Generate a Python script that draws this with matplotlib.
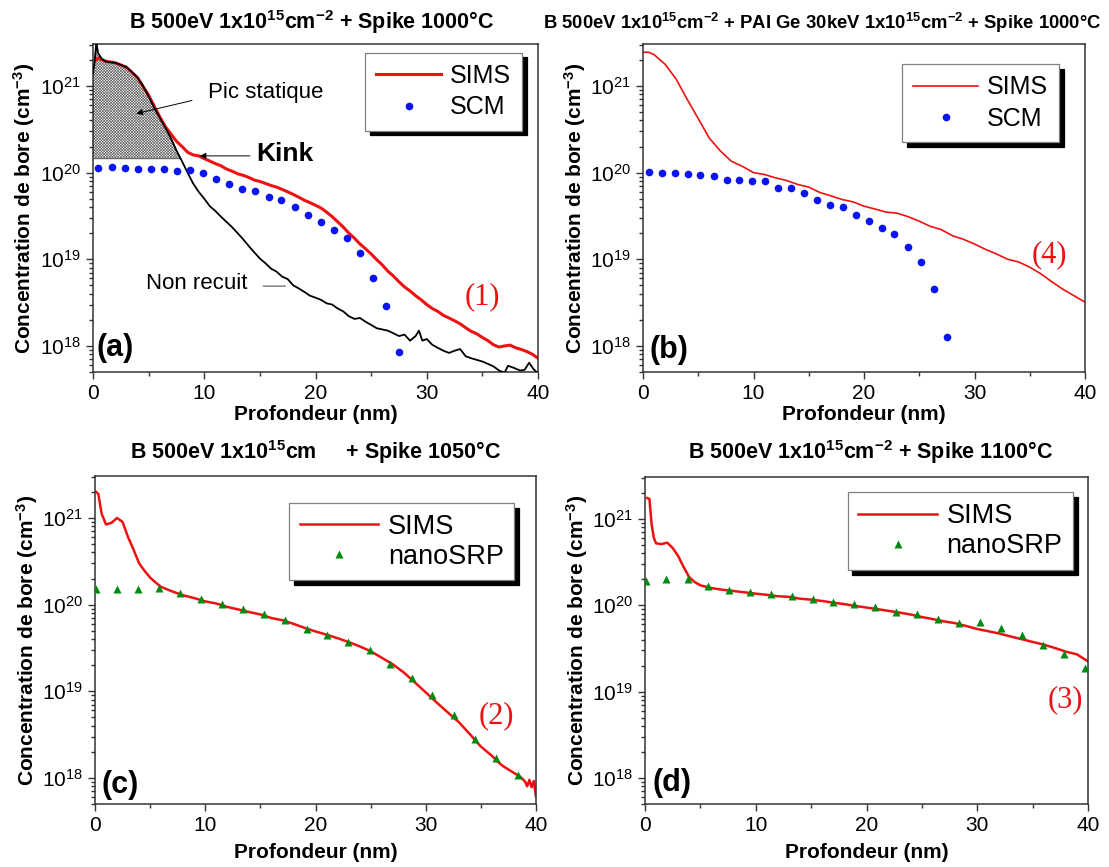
import matplotlib
matplotlib.use("Agg")
import matplotlib.pyplot as plt
from matplotlib.patches import Shadow
from matplotlib.ticker import MultipleLocator, NullFormatter

plt.rcParams['font.family'] = ['Liberation Sans', 'DejaVu Sans']
plt.rcParams['mathtext.fontset'] = 'custom'
plt.rcParams['mathtext.rm'] = 'Liberation Sans'
plt.rcParams['mathtext.bf'] = 'Liberation Sans:bold'
plt.rcParams['mathtext.it'] = 'Liberation Sans:italic'
plt.rcParams['hatch.linewidth'] = 0.45
plt.rcParams['hatch.color'] = '#505050'

# ---- (a) B 500eV + Spike 1000C ----
a_sims_x = [0.25, 0.5, 1, 2, 3, 4, 5, 6, 6.5, 7, 7.5, 8, 8.5, 9, 9.5, 10, 10.5, 11, 11.5, 12,
            12.5, 13, 13.5, 14, 14.5, 15, 15.5, 16, 16.5, 17, 17.5, 18, 18.5, 19, 19.5, 20,
            20.5, 21, 21.5, 22, 22.5, 23, 23.5, 24, 24.5, 25, 25.5, 26, 26.5, 27, 27.5, 28,
            28.5, 29, 29.5, 30, 30.5, 31, 31.5, 32, 32.5, 33, 33.5, 34, 34.5, 35, 35.5, 36,
            36.5, 37, 37.5, 38, 38.5, 39, 39.5, 40]
a_sims_y = [2.0e21, 2.1e21, 1.95e21, 1.85e21, 1.65e21, 1.25e21, 7.8e20, 4.4e20, 3.4e20, 2.8e20,
            2.3e20, 2.0e20, 1.72e20, 1.6e20, 1.56e20, 1.45e20, 1.36e20, 1.27e20, 1.2e20, 1.1e20,
            1.04e20, 9.7e19, 9.3e19, 8.8e19, 8.2e19, 7.9e19, 7.5e19, 7.1e19, 6.8e19, 6.4e19,
            6.0e19, 5.6e19, 5.2e19, 4.8e19, 4.5e19, 4.2e19, 3.9e19, 3.5e19, 3.1e19, 2.7e19,
            2.35e19, 2.0e19, 1.75e19, 1.5e19, 1.32e19, 1.15e19, 9.9e18, 8.6e18, 7.3e18, 6.4e18,
            5.5e18, 4.8e18, 4.3e18, 3.8e18, 3.4e18, 3.0e18, 2.7e18, 2.5e18, 2.25e18, 2.1e18,
            1.95e18, 1.8e18, 1.62e18, 1.47e18, 1.38e18, 1.25e18, 1.15e18, 1.03e18, 9.7e17,
            1.0e18, 1.02e18, 9.5e17, 9.1e17, 8.6e17, 8.0e17, 7.2e17]
a_raw_x = [0.0, 0.15, 0.3, 0.45, 0.8, 1.2, 2.0, 3.0, 3.5, 4.0, 4.5, 5.0, 5.5, 6.0, 6.5, 7.0,
           7.5, 8.0, 8.5, 9.0, 9.5, 10, 10.5, 11, 11.5, 12, 12.5, 13, 13.5, 14, 14.5, 15, 15.5,
           16, 16.5, 17, 17.5, 18, 18.5, 19, 19.5, 20, 20.5, 21, 21.5, 22, 22.5, 23, 23.5, 24,
           24.5, 25, 25.5, 26, 26.5, 27, 27.5, 28, 28.5, 29, 29.3, 29.6, 30, 30.5, 31, 31.5, 32,
           32.5, 33, 33.5, 34, 34.5, 35, 35.5, 36, 36.5, 37, 37.3, 37.8, 38.4, 38.8, 39.2, 39.6, 40]
a_raw_y = [1.4e21, 1.9e21, 3.2e21, 2.4e21, 2.05e21, 1.9e21, 1.85e21, 1.65e21, 1.45e21, 1.25e21,
           1.0e21, 7.6e20, 5.6e20, 4.3e20, 3.3e20, 2.5e20, 1.8e20, 1.35e20, 1.0e20, 7.5e19,
           6.0e19, 5.0e19, 4.1e19, 3.6e19, 3.1e19, 2.7e19, 2.35e19, 2.0e19, 1.7e19, 1.42e19,
           1.2e19, 1.02e19, 9.0e18, 7.8e18, 7.2e18, 6.3e18, 5.9e18, 5.0e18, 4.6e18, 4.2e18,
           3.8e18, 3.6e18, 3.4e18, 3.1e18, 3.0e18, 2.7e18, 2.5e18, 2.2e18, 2.05e18, 2.1e18,
           1.9e18, 1.75e18, 1.6e18, 1.55e18, 1.5e18, 1.4e18, 1.3e18, 1.35e18, 1.15e18, 1.3e18,
           1.5e18, 1.15e18, 1.2e18, 1.03e18, 9.5e17, 8.8e17, 8.3e17, 8.8e17, 9.2e17, 7.6e17,
           7.2e17, 6.9e17, 6.6e17, 6.2e17, 5.8e17, 5.2e17, 4.9e17, 5.9e17, 5.6e17, 5.2e17,
           5.3e17, 6.4e17, 5.4e17, 4.8e17]
a_scm_x = [0.45, 1.67, 2.87, 4.06, 5.22, 6.38, 7.57, 8.76, 9.88, 11.04, 12.24, 13.43, 14.56,
           15.78, 16.94, 18.16, 19.29, 20.48, 21.67, 22.80, 23.99, 25.15, 26.31, 27.52]
a_scm_y = [1.14e20, 1.16e20, 1.14e20, 1.09e20, 1.11e20, 1.09e20, 1.04e20, 1.06e20, 9.9e19,
           8.5e19, 7.3e19, 6.4e19, 6.1e19, 5.3e19, 4.8e19, 4.0e19, 3.2e19, 2.7e19, 2.2e19,
           1.75e19, 1.18e19, 6.05e18, 2.9e18, 8.4e17]
a_static_level = 1.45e20

# ---- (b) B 500eV + PAI Ge + Spike 1000C ----
b_sims_x = [0, 0.5, 1, 2, 3, 4, 5, 6, 7, 8, 9, 10, 11, 12, 13, 14, 15, 16, 17, 18, 19, 20,
            21, 22, 23, 24, 25, 26, 27, 28, 29, 30, 31, 32, 33, 34, 35, 36, 37, 38, 39, 40]
b_sims_y = [2.45e21, 2.45e21, 2.3e21, 1.78e21, 1.2e21, 7.0e20, 4.2e20, 2.5e20, 1.78e20, 1.35e20,
            1.18e20, 1.0e20, 9.5e19, 8.7e19, 8.1e19, 7.3e19, 6.8e19, 5.9e19, 5.4e19, 4.9e19,
            4.6e19, 4.1e19, 3.8e19, 3.5e19, 3.4e19, 3.1e19, 2.75e19, 2.4e19, 2.2e19, 1.87e19,
            1.7e19, 1.5e19, 1.3e19, 1.15e19, 1.0e19, 9.3e18, 8.1e18, 6.8e18, 5.5e18, 4.5e18,
            3.8e18, 3.2e18]
b_scm_x = [0.55, 1.70, 2.86, 4.08, 5.2, 6.39, 7.58, 8.7, 9.89, 11.04, 12.26, 13.42, 14.57,
           15.76, 16.92, 18.14, 19.26, 20.45, 21.64, 22.76, 23.98, 25.14, 26.29, 27.51]
b_scm_y = [1.02e20, 9.9e19, 9.9e19, 9.6e19, 9.4e19, 9.2e19, 8.3e19, 8.3e19, 7.9e19, 7.9e19,
           6.65e19, 6.6e19, 5.8e19, 4.85e19, 4.2e19, 4.0e19, 3.2e19, 2.8e19, 2.3e19, 1.96e19,
           1.4e19, 9.3e18, 4.5e18, 1.27e18]

# ---- (c) B 500eV + Spike 1050C ----
c_sims_x = [0.1, 0.3, 0.6, 1.0, 1.5, 2.0, 2.5, 3.0, 3.5, 4.0, 4.5, 5.0, 5.5, 6, 7, 8, 9, 10,
            11, 12, 13, 14, 15, 16, 17, 18, 19, 20, 21, 22, 23, 24, 25, 26, 27, 28, 29, 30,
            31, 32, 33, 34, 35, 36, 36.5, 37, 37.5, 38, 38.5, 39, 39.2, 39.4, 39.6, 39.8, 40]
c_sims_y = [2.0e21, 1.9e21, 1.12e21, 8.4e20, 8.8e20, 1.0e21, 9.0e20, 6.0e20, 4.3e20, 3.0e20,
            2.45e20, 2.05e20, 1.8e20, 1.6e20, 1.42e20, 1.28e20, 1.19e20, 1.09e20, 1.03e20,
            9.4e19, 8.8e19, 8.2e19, 7.7e19, 7.0e19, 6.6e19, 6.0e19, 5.4e19, 4.9e19, 4.5e19,
            4.1e19, 3.7e19, 3.3e19, 2.9e19, 2.44e19, 2.05e19, 1.65e19, 1.27e19, 9.7e18, 7.4e18,
            5.7e18, 4.4e18, 3.2e18, 2.3e18, 1.8e18, 1.55e18, 1.37e18, 1.25e18, 1.14e18,
            1.05e18, 9.1e17, 8.0e17, 9.5e17, 7.8e17, 9.2e17, 6.1e17]
c_srp_x = [0.13, 1.99, 3.93, 5.80, 7.73, 9.6, 11.53, 13.46, 15.33, 17.26, 19.19, 21.06, 22.99,
           24.92, 26.79, 28.73, 30.6, 32.53, 34.46, 36.4, 38.33]
c_srp_y = [1.51e20, 1.51e20, 1.51e20, 1.54e20, 1.36e20, 1.16e20, 1.01e20, 8.8e19, 7.7e19,
           6.6e19, 5.3e19, 4.46e19, 3.74e19, 2.97e19, 2.09e19, 1.43e19, 9.1e18, 5.3e18, 2.8e18,
           1.71e18, 1.07e18]

# ---- (d) B 500eV + Spike 1100C ----
d_sims_x = [0.2, 0.4, 0.6, 0.8, 1.0, 1.5, 2.0, 2.5, 3.0, 3.5, 4.0, 4.5, 5, 6, 7, 8, 9, 10, 11,
            12, 13, 14, 15, 16, 17, 18, 19, 20, 21, 22, 23, 24, 25, 26, 27, 28, 29, 30, 31, 32,
            33, 34, 35, 36, 37, 38, 39, 40]
d_sims_y = [1.74e21, 1.7e21, 8.6e20, 6.0e20, 5.2e20, 5.1e20, 5.3e20, 4.6e20, 3.7e20, 2.75e20,
            2.1e20, 1.85e20, 1.7e20, 1.58e20, 1.51e20, 1.46e20, 1.41e20, 1.36e20, 1.32e20,
            1.27e20, 1.25e20, 1.19e20, 1.16e20, 1.12e20, 1.07e20, 1.03e20, 9.8e19, 9.4e19,
            9.0e19, 8.6e19, 8.2e19, 7.8e19, 7.3e19, 6.9e19, 6.5e19, 6.2e19, 5.75e19, 5.3e19,
            5.0e19, 4.7e19, 4.35e19, 4.05e19, 3.76e19, 3.5e19, 3.2e19, 2.9e19, 2.7e19, 2.24e19]
d_srp_x = [0.13, 1.92, 3.85, 5.68, 7.6, 9.48, 11.36, 13.25, 15.14, 17.0, 18.89, 20.78, 22.67,
           24.6, 26.49, 28.38, 30.24, 32.13, 34.02, 35.91, 37.81, 39.7]
d_srp_y = [1.93e20, 1.99e20, 1.99e20, 1.66e20, 1.49e20, 1.42e20, 1.34e20, 1.27e20, 1.19e20,
           1.09e20, 1.03e20, 9.6e19, 8.4e19, 7.9e19, 7.0e19, 6.3e19, 6.4e19, 5.5e19, 4.5e19,
           3.5e19, 2.7e19, 1.9e19]

W, H = 1109, 867
fig = plt.figure(figsize=(W / 100, H / 100), dpi=100)


def make_axes(l, t, r, b):
    return fig.add_axes([l / W, 1 - b / H, (r - l) / W, (b - t) / H])


axa = make_axes(93, 44, 538, 372)
axb = make_axes(643, 44, 1085, 372)
axc = make_axes(95, 476, 536, 804)
axd = make_axes(645, 477, 1088, 804)

RED = '#ee1111'
BLUE = '#0a14f0'
GREEN = '#008a10'
ARROW = dict(arrowstyle='-|>', color='black', lw=0.7, mutation_scale=9, shrinkA=0, shrinkB=0)

# (a)
xs = [x for x in a_raw_x if x <= 9]
ys = a_raw_y[:len(xs)]
axa.fill_between(xs, a_static_level, ys, where=[y >= a_static_level for y in ys],
                 interpolate=True, facecolor='white', edgecolor='#606060',
                 hatch='x' * 12, linewidth=0.8, zorder=1)
axa.plot(a_sims_x, a_sims_y, color=RED, lw=2.2, label='SIMS', zorder=2)
axa.plot(a_raw_x, a_raw_y, color='black', lw=1.3, zorder=3)
axa.plot(a_scm_x, a_scm_y, 'o', color=BLUE, ms=5.5, mec='none', label='SCM', zorder=4)
axa.text(10.3, 8.5e20, 'Pic statique', fontsize=16, va='center', ha='left')
axa.annotate('', xy=(3.9, 4.8e20), xytext=(8.9, 6.8e20), arrowprops=ARROW)
axa.text(14.7, 1.64e20, 'Kink', fontsize=19, fontweight='bold', va='center', ha='left')
axa.annotate('', xy=(9.6, 1.56e20), xytext=(14.1, 1.56e20), arrowprops=ARROW)
axa.text(4.8, 5.2e18, 'Non recuit', fontsize=16, va='center', ha='left')
axa.annotate('', xy=(17.3, 4.9e18), xytext=(15.3, 4.9e18),
             arrowprops=dict(arrowstyle='-', color='#666666', lw=0.9, shrinkA=0, shrinkB=0))
axa.text(0.876, 0.229, '(1)', transform=axa.transAxes, color=RED, fontsize=22,
         family='Liberation Serif', ha='center', va='center')

# (b)
axb.plot(b_sims_x, b_sims_y, color=RED, lw=1.2, label='SIMS', zorder=2)
axb.plot(b_scm_x, b_scm_y, 'o', color=BLUE, ms=5.5, mec='none', label='SCM', zorder=4)
axb.text(0.92, 0.358, '(4)', transform=axb.transAxes, color=RED, fontsize=22,
         family='Liberation Serif', ha='center', va='center')

# (c)
axc.plot(c_sims_x, c_sims_y, color=RED, lw=1.8, label='SIMS', zorder=2)
axc.plot(c_srp_x, c_srp_y, '^', color=GREEN, ms=6, mec='none', label='nanoSRP', zorder=4)
axc.text(0.911, 0.268, '(2)', transform=axc.transAxes, color=RED, fontsize=22,
         family='Liberation Serif', ha='center', va='center')

# (d)
axd.plot(d_sims_x, d_sims_y, color=RED, lw=1.8, label='SIMS', zorder=2)
axd.plot(d_srp_x, d_srp_y, '^', color=GREEN, ms=6, mec='none', label='nanoSRP', zorder=4)
axd.text(0.95, 0.32, '(3)', transform=axd.transAxes, color=RED, fontsize=22,
         family='Liberation Serif', ha='center', va='center')

panel_tags = ['(a)', '(b)', '(c)', '(d)']
tag_pos = [(0.008, 0.073), (0.015, 0.068), (0.014, 0.058), (0.018, 0.063)]
leg_pos = [(0.7875, 0.855), (0.7635, 0.82), (0.6955, 0.80), (0.712, 0.834)]
leg_size = [18, 18, 19.5, 19.5]
leg_pad = [0.45, 0.45, 0.4, 0.4]
leg_hlen = [2.6, 2.6, 2.9, 2.9]
leg_space = [0.3, 0.3, 0.15, 0.15]
xlab_y = [-0.1, -0.1, -0.119, -0.119]

legends = []
for i, ax in enumerate([axa, axb, axc, axd]):
    ax.set_yscale('log')
    ax.set_xlim(0, 40)
    ax.set_ylim(5.0e17, 3.05e21)
    ax.xaxis.set_major_locator(MultipleLocator(10))
    ax.xaxis.set_minor_locator(MultipleLocator(5))
    ax.yaxis.set_minor_formatter(NullFormatter())
    ax.tick_params(which='both', direction='out', top=False, right=False, labelsize=15,
                   color='#333333', width=1)
    ax.tick_params(which='major', length=5)
    ax.tick_params(which='minor', length=3)
    for s in ax.spines.values():
        s.set_color('#333333')
        s.set_linewidth(1.1)
    ax.set_xlabel('Profondeur (nm)', fontsize=15, fontweight='bold')
    ax.set_ylabel(r'Concentration de bore (cm$^{\mathbf{-3}}$)', fontsize=15, fontweight='bold')
    ax.xaxis.set_label_coords(0.5, xlab_y[i])
    ax.yaxis.set_label_coords(-0.125, 0.5)
    ax.text(tag_pos[i][0], tag_pos[i][1], panel_tags[i], transform=ax.transAxes, fontsize=22,
            fontweight='bold', ha='left', va='center')
    leg = ax.legend(loc='center', bbox_to_anchor=leg_pos[i], fontsize=leg_size[i], frameon=True,
                    fancybox=False, framealpha=1, edgecolor='#808080', numpoints=1,
                    handlelength=leg_hlen[i], handletextpad=0.35, labelspacing=leg_space[i],
                    borderpad=leg_pad[i], borderaxespad=0)
    leg.get_frame().set_linewidth(0.9)
    leg.set_zorder(10)
    legends.append((ax, leg))

fig.text(311.5 / W, 1 - 29 / H, r'B 500eV 1x10$^{\mathbf{15}}$cm$^{\mathbf{-2}}$ + Spike 1000°C',
         ha='center', va='baseline', fontsize=15.5, fontweight='bold')
fig.text(822 / W, 1 - 29 / H,
         r'B 500eV 1x10$^{\mathbf{15}}$cm$^{\mathbf{-2}}$ + PAI Ge 30keV 1x10$^{\mathbf{15}}$cm$^{\mathbf{-2}}$ + Spike 1000°C',
         ha='center', va='baseline', fontsize=13.3, fontweight='bold')
fig.text(315.5 / W, 1 - 459 / H, r'B 500eV 1x10$^{\mathbf{15}}$cm     + Spike 1050°C',
         ha='center', va='baseline', fontsize=15.5, fontweight='bold')
fig.text(871 / W, 1 - 459 / H, r'B 500eV 1x10$^{\mathbf{15}}$cm$^{\mathbf{-2}}$ + Spike 1100°C',
         ha='center', va='baseline', fontsize=15.5, fontweight='bold')

# black offset shadow behind each legend box
fig.canvas.draw()
for ax, leg in legends:
    sh = Shadow(leg.legendPatch, 3.5, -3.5, facecolor='black', edgecolor='black', alpha=1)
    sh.set_zorder(9)
    ax.add_artist(sh)

fig.savefig('out.png', dpi=100)
